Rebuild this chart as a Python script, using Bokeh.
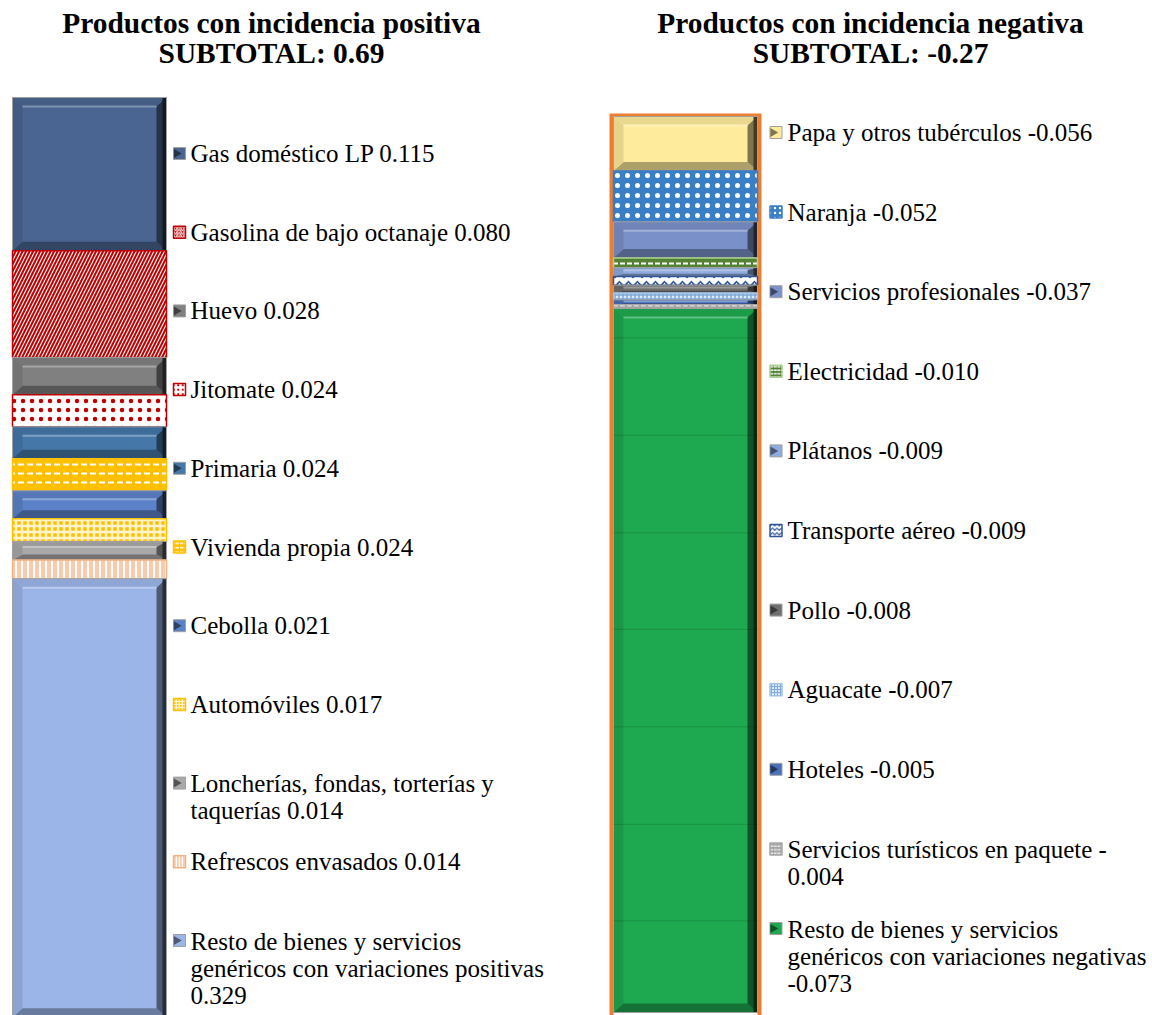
import numpy as np
from bokeh.plotting import figure
from bokeh.layouts import row
from bokeh.models import Range1d
from bokeh.core.properties import value
from bokeh.embed import file_html
from bokeh.resources import INLINE

# ---------------- data ----------------
pos_title = ["Productos con incidencia positiva", "SUBTOTAL: 0.69"]
pos_names = ["Gas doméstico LP", "Gasolina de bajo octanaje", "Huevo", "Jitomate",
             "Primaria", "Vivienda propia", "Cebolla", "Automóviles",
             "Loncherías, fondas, torterías y\ntaquerías",
             "Refrescos envasados",
             "Resto de bienes y servicios\ngenéricos con variaciones positivas\n"]
pos_values = [0.115, 0.080, 0.028, 0.024, 0.024, 0.024, 0.021, 0.017, 0.014, 0.014, 0.329]

neg_title = ["Productos con incidencia negativa", "SUBTOTAL: -0.27"]
neg_names = ["Papa y otros tubérculos", "Naranja", "Servicios profesionales", "Electricidad",
             "Plátanos", "Transporte aéreo", "Pollo", "Aguacate", "Hoteles",
             "Servicios turísticos en paquete -\n",
             "Resto de bienes y servicios\ngenéricos con variaciones negativas\n"]
neg_values = [-0.056, -0.052, -0.037, -0.010, -0.009, -0.009, -0.008, -0.007, -0.005, -0.004, -0.073]
# bar lengths as drawn in the source chart (the last bar is drawn much longer than its label)
neg_bar_values = [-0.056, -0.052, -0.037, -0.010, -0.009, -0.009, -0.008, -0.007, -0.005, -0.004, -0.722]
neg_grid = [-0.227, -0.327, -0.427, -0.526, -0.626, -0.726, -0.825]


def fmt(name, v):
    s = "%.3f" % v
    if name.endswith("-\n"):
        return name + s.lstrip("-")
    if name.endswith("\n"):
        return name + s
    return name + " " + s

pos_labels = [fmt(n, v) for n, v in zip(pos_names, pos_values)]
neg_labels = [fmt(n, v) for n, v in zip(neg_names, neg_values)]

# ---------------- styles ----------------
pos_styles = [
    dict(fill="#4A6591", bevel=True),
    dict(fill="#C00000", hatch="/", hc="white", hs=7, hw=1.1, line="#C00000"),
    dict(fill="#808080", bevel=True),
    dict(fill="white", hatch=".", hc="#C00000", hs=9, hw=1.0, line="#C00000"),
    dict(fill="#4577A8", bevel=True),
    dict(fill="#FFC000", hatch='"', hc="white", hs=9, hw=2.0, line="#FFC000"),
    dict(fill="#5B82C8", bevel=True),
    dict(fill="#FFC000", hatch="+", hc="#FFF3CC", hs=6, hw=2.5, line="#FFC000"),
    dict(fill="#A9A9A9", bevel=True),
    dict(fill="#F8CBAD", hatch="|", hc="white", hs=6, hw=2.0, line="#F4B183"),
    dict(fill="#9BB5E9", bevel=True),
]
neg_styles = [
    dict(fill="#FFEB9C", bevel=True),
    dict(fill="#3A7EC6", hatch=".", hc="white", hs=10, hw=1.0, line="#3A7EC6"),
    dict(fill="#7A90C8", bevel=True),
    dict(fill="#548235", hatch='"', hc="white", hs=7, hw=2.0, line="#A9D18E"),
    dict(fill="#8FAADC", bevel=True),
    dict(fill="white", hatch="v", hc="#2F5597", hs=9, hw=1.6, line="#2F5597"),
    dict(fill="#6F6F6F", bevel=True),
    dict(fill="#DDEBF7", hatch="+", hc="#7FA9DA", hs=4, hw=1.5, line="#9DC3E6"),
    dict(fill="#4A70B8", bevel=True),
    dict(fill="#A6A6A6", hatch='"', hc="white", hs=7, hw=1.5, line="#A6A6A6"),
    dict(fill="#1EA84F", bevel=True),
]

# ---------------- layout (page pixels) ----------------
FIG_TOP, FIG_BOT = 0, 1015
L_ZERO, L_SCALE = 97.0, 1333.0
R_ZERO, R_SCALE = 116.0, 975.0
FONT = "Liberation Serif"
LEG_SIZE = 25.0
LEG_LH = 28.3


def yl(px):
    return (px - L_ZERO) / L_SCALE


def yr(px):
    return -(px - R_ZERO) / R_SCALE


def mix(c, t, a):
    c = c.lstrip("#")
    r, g, b = int(c[0:2], 16), int(c[2:4], 16), int(c[4:6], 16)
    tv = 255 if t == "w" else 0
    r, g, b = [int(round(v + (tv - v) * a)) for v in (r, g, b)]
    return "#%02x%02x%02x" % (r, g, b)


def make_fig(x0, x1, ylo, yhi):
    p = figure(width=int(x1 - x0), height=FIG_BOT - FIG_TOP,
               x_range=Range1d(x0, x1), y_range=Range1d(ylo, yhi),
               output_backend="svg", toolbar_location=None,
               x_axis_location=None, y_axis_location=None, min_border=0)
    p.grid.visible = False
    p.outline_line_color = None
    p.background_fill_color = "white"
    return p


def draw_bar(p, x0, x1, values, styles, scale):
    cum = np.concatenate([[0.0], np.cumsum(values)])
    tops, bots = cum[:-1], cum[1:]
    for t, b, st in zip(tops, bots, styles):
        if st.get("bevel"):
            c = st["fill"]
            p.quad(left=x0, right=x1, top=t, bottom=b, fill_color=c,
                   line_color=None)
            h_px = abs(b - t) * scale
            bv = min(9.0, h_px * 0.3) / scale * np.sign(b - t)
            bx = 10.0
            ti, bi = t + bv, b - bv
            xs = [[x0, x1, x1 - bx, x0 + bx],
                  [x0, x1, x1 - bx, x0 + bx],
                  [x0, x0 + bx, x0 + bx, x0],
                  [x1, x1 - bx, x1 - bx, x1]]
            ys = [[t, t, ti, ti], [b, b, bi, bi], [t, ti, bi, b], [t, ti, bi, b]]
            cols = [mix(c, "k", 0.08), mix(c, "k", 0.32), mix(c, "k", 0.1), mix(c, "k", 0.5)]
            p.patches(xs=xs, ys=ys, fill_color=cols, line_color=None)
            p.segment(x0=x0 + bx, x1=x1 - bx, y0=ti, y1=ti,
                      line_color=mix(c, "w", 0.3), line_width=2)
            p.quad(left=x1 - 4, right=x1, top=t, bottom=b, fill_color=mix(c, "k", 0.75),
                   line_color=None)
            p.quad(left=x0, right=x1, top=t, bottom=b, fill_color=None,
                   line_color="#A0A0A0", line_width=1)
        else:
            p.quad(left=x0, right=x1, top=t, bottom=b, fill_color=st["fill"],
                   line_color=st.get("line"), line_width=1.5,
                   hatch_pattern=st["hatch"], hatch_color=st["hc"],
                   hatch_scale=st["hs"], hatch_weight=st["hw"])
    return tops, bots


def draw_legend(p, mx, tx, ys_px, labels, styles, yfun):
    for py, lab, st in zip(ys_px, labels, styles):
        n = lab.count("\n")
        ym = yfun(py)
        if st.get("bevel"):
            c = st["fill"]
            p.rect(x=mx, y=ym, width=12, height=12, height_units="screen",
                   fill_color=c, line_color="#A0A0A0", line_width=1)
            p.scatter(x=mx - 3, y=ym, marker="triangle", size=9, angle=-np.pi / 2,
                      fill_color=mix(c, "k", 0.5), line_color=None)
        else:
            p.rect(x=mx, y=ym, width=12, height=12, height_units="screen",
                   fill_color=st["fill"], line_color=st.get("line"), line_width=1.5,
                   hatch_pattern=st["hatch"], hatch_color=st["hc"],
                   hatch_scale=max(3, st["hs"] * 0.5), hatch_weight=max(1, st["hw"] * 0.7))
        p.text(x=[tx], y=[yfun(py + n * LEG_LH / 2.0)], text=[lab],
               text_font=value(FONT), text_font_size="%.1fpx" % LEG_SIZE,
               text_baseline="middle", text_align="left", text_color="black",
               text_line_height=1.0)


# ---------------- left panel ----------------
pl = make_fig(0, 592, yl(FIG_BOT), yl(FIG_TOP))
draw_bar(pl, 12, 166, pos_values, pos_styles, L_SCALE)
pl.text(x=[271, 271], y=[yl(22), yl(52)], text=pos_title, text_font=value(FONT),
        text_font_size="29.4px", text_font_style="bold", text_align="center",
        text_baseline="middle", text_color="black")
left_leg_y = [153 + i * 78.7 for i in range(len(pos_labels))]
draw_legend(pl, 179, 190, left_leg_y, pos_labels, pos_styles, yl)

# ---------------- right panel ----------------
pr = make_fig(592, 1152, yr(FIG_BOT), yr(FIG_TOP))
total_drawn = float(np.sum(neg_bar_values))
pr.quad(left=609, right=761, top=yr(113), bottom=total_drawn - 0.05,
        fill_color="#ED7D31", line_color=None)
pr.quad(left=613, right=757, top=0, bottom=total_drawn - 0.05,
        fill_color="white", line_color=None)
tops, bots = draw_bar(pr, 613, 757, neg_bar_values, neg_styles, R_SCALE)
pr.segment(x0=613, x1=757, y0=neg_grid, y1=neg_grid, line_color="black",
           line_alpha=0.14, line_width=1)
pr.text(x=[870, 870], y=[yr(22), yr(52)], text=neg_title, text_font=value(FONT),
        text_font_size="29.4px", text_font_style="bold", text_align="center",
        text_baseline="middle", text_color="black")
right_leg_y = [132 + i * 79.6 for i in range(len(neg_labels))]
draw_legend(pr, 775.5, 787, right_leg_y, neg_labels, neg_styles, yr)

layout = row(pl, pr)
open("out.html", "w").write(file_html(layout, INLINE))
